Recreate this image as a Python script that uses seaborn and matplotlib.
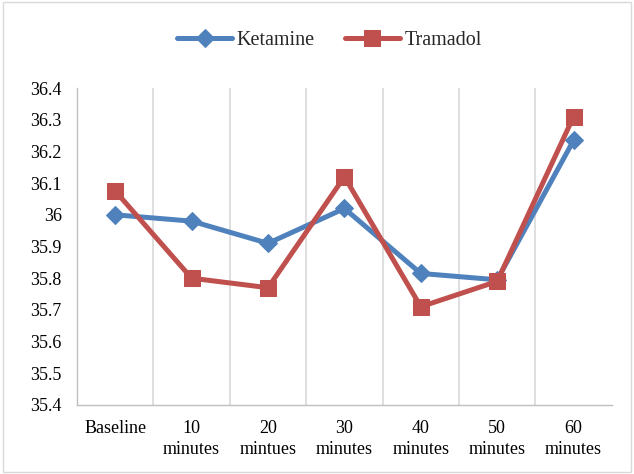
import matplotlib
matplotlib.use("Agg")
import matplotlib.pyplot as plt
import seaborn as sns
import pandas as pd
from matplotlib.patches import Rectangle

categories = ["Baseline", "10\nminutes", "20\nmintues", "30\nminutes",
              "40\nminutes", "50\nminutes", "60\nminutes"]
ketamine = [36.00, 35.98, 35.91, 36.02, 35.815, 35.795, 36.235]
tramadol = [36.075, 35.80, 35.77, 36.12, 35.71, 35.79, 36.31]
y_ticks = [35.4, 35.5, 35.6, 35.7, 35.8, 35.9, 36.0, 36.1, 36.2, 36.3, 36.4]
y_tick_labels = ["35.4", "35.5", "35.6", "35.7", "35.8", "35.9", "36",
                 "36.1", "36.2", "36.3", "36.4"]

df = pd.DataFrame({
    "pos": list(range(len(categories))) * 2,
    "value": ketamine + tramadol,
    "group": ["Ketamine"] * len(categories) + ["Tramadol"] * len(categories),
})

sns.set_theme(style="white")
plt.rcParams["font.family"] = ["Liberation Serif", "DejaVu Serif"]

fig = plt.figure(figsize=(6.34, 4.74), dpi=100)
ax = fig.add_axes([0.1215, 0.1456, 0.8435, 0.6687])

palette = {"Ketamine": "#4F81BD", "Tramadol": "#C0504D"}
markers = {"Ketamine": "D", "Tramadol": "s"}
sizes = {"Ketamine": 9.5, "Tramadol": 12}

for name in ["Ketamine", "Tramadol"]:
    sub = df[df["group"] == name]
    sns.lineplot(data=sub, x="pos", y="value", ax=ax, color=palette[name],
                 marker=markers[name], markersize=sizes[name],
                 markeredgecolor=palette[name], linewidth=3.6, label=name,
                 estimator=None, sort=False)

ax.set_xlim(-0.5, len(categories) - 0.5)
ax.set_ylim(35.4, 36.4)
ax.set_yticks(y_ticks)
ax.set_yticklabels(y_tick_labels, fontsize=13, color="#000000")
ax.set_xticks(range(len(categories)))
ax.set_xticklabels(categories, fontsize=13, color="#000000", linespacing=1.3)
ax.set_xticks([i + 0.5 for i in range(len(categories) - 1)], minor=True)
ax.grid(False)
ax.grid(True, which="minor", axis="x", color="#D9D9D9", linewidth=1.2)
ax.tick_params(axis="x", which="both", length=0, pad=11)
ax.tick_params(axis="y", which="both", length=0, pad=11)
ax.set_xlabel("")
ax.set_ylabel("")

for side in ["top", "right"]:
    ax.spines[side].set_visible(False)
for side in ["left", "bottom"]:
    ax.spines[side].set_color("#BFBFBF")
    ax.spines[side].set_linewidth(1.0)

leg = ax.legend(loc="center", bbox_to_anchor=(0.52, 0.915),
                bbox_transform=fig.transFigure, ncol=2, frameon=False,
                fontsize=14.5, handlelength=2.7, columnspacing=1.5,
                handletextpad=0.25)

fig.patches.append(Rectangle((0.004, 0.004), 0.992, 0.992,
                             transform=fig.transFigure, fill=False,
                             edgecolor="#D9D9D9", linewidth=1.0))

fig.savefig("out.png", dpi=100)
